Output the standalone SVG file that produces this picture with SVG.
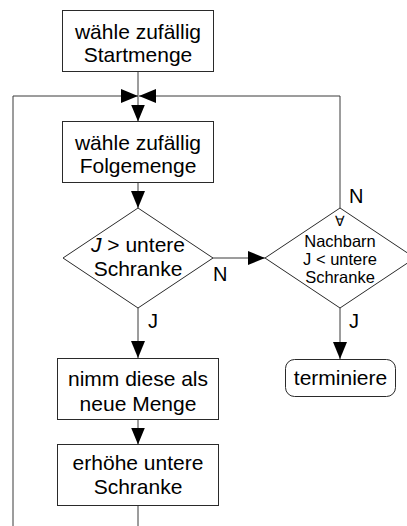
<svg xmlns="http://www.w3.org/2000/svg" width="407" height="526" viewBox="0 0 407 526">
  <style>
    .shape { fill: #ffffff; stroke: #2a2a2a; stroke-width: 1; }
    .conn { fill: none; stroke: #3a3a3a; stroke-width: 1; }
    text { font-family: "Liberation Sans", Arial, sans-serif; fill: #000000; text-anchor: middle; }
    .t { font-size: 21px; }
    .s { font-size: 16.5px; }
    .lbl { font-size: 20px; text-anchor: start; }
  </style>
  <defs>
    <marker id="arrow" viewBox="0 0 17 14" refX="17" refY="7" markerWidth="17" markerHeight="14" markerUnits="userSpaceOnUse" orient="auto">
      <path d="M0,0 L17,7 L0,14 z" fill="#000000"/>
    </marker>
  </defs>
  <rect width="407" height="526" fill="#ffffff"/>

  <!-- connectors -->
  <g id="connectors">
    <path class="conn" d="M138,71 V121.5" marker-end="url(#arrow)"/>
    <path class="conn" d="M13,526 V96 H138" marker-end="url(#arrow)"/>
    <path class="conn" d="M340,208 V96 H139" marker-end="url(#arrow)"/>
    <path class="conn" d="M138,182 V208" marker-end="url(#arrow)"/>
    <path class="conn" d="M138,308 V358" marker-end="url(#arrow)"/>
    <path class="conn" d="M213,258 H265" marker-end="url(#arrow)"/>
    <path class="conn" d="M340,308 V359" marker-end="url(#arrow)"/>
    <path class="conn" d="M138,419 V444.5" marker-end="url(#arrow)"/>
    <path class="conn" d="M138,505 V526"/>
    <text class="lbl" x="148" y="328">J</text>
    <text class="lbl" x="213" y="281">N</text>
    <text class="lbl" x="349" y="203">N</text>
    <text class="lbl" x="349" y="328">J</text>
  </g>

  <!-- start set -->
  <g id="start">
    <rect class="shape" x="62.5" y="10.5" width="151" height="61"/>
    <text class="t" x="138" y="39">wähle zufällig</text>
    <text class="t" x="138" y="62">Startmenge</text>
  </g>

  <!-- successor set -->
  <g id="folge">
    <rect class="shape" x="62.5" y="121.5" width="151" height="61"/>
    <text class="t" x="138" y="150">wähle zufällig</text>
    <text class="t" x="138" y="173">Folgemenge</text>
  </g>

  <!-- decision: J above lower bound -->
  <g id="check">
    <polygon class="shape" points="138,208 213,258 138,308 63,258"/>
    <text class="t" x="138" y="252"><tspan font-style="italic">J</tspan> &gt; untere</text>
    <text class="t" x="138" y="276">Schranke</text>
  </g>

  <!-- accept new set -->
  <g id="accept">
    <rect class="shape" x="57.5" y="358.5" width="161" height="61"/>
    <text class="t" x="138" y="386">nimm diese als</text>
    <text class="t" x="138" y="411">neue Menge</text>
  </g>

  <!-- raise lower bound -->
  <g id="raise">
    <rect class="shape" x="57.5" y="444.5" width="161" height="61"/>
    <text class="t" x="138" y="470">erhöhe untere</text>
    <text class="t" x="138" y="494">Schranke</text>
  </g>

  <!-- decision: all neighbours below bound -->
  <g id="neighbours">
    <polygon class="shape" points="340,208 415,258 340,308 265,258"/>
    <text x="340" y="226" font-size="14px">∀</text>
    <text class="s" x="340" y="247">Nachbarn</text>
    <text class="s" x="340" y="265">J &lt; untere</text>
    <text class="s" x="340" y="283">Schranke</text>
  </g>

  <!-- terminate -->
  <g id="terminate">
    <rect class="shape" x="285.5" y="359.5" width="110" height="37" rx="9" ry="9"/>
    <text class="t" x="340.5" y="385">terminiere</text>
  </g>
</svg>
